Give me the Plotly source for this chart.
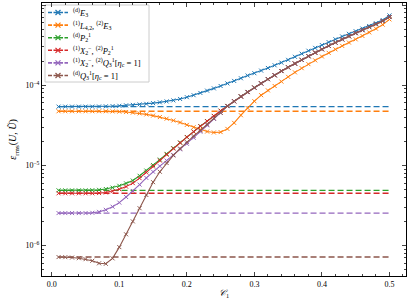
import plotly.graph_objects as go

# x grid (C_1)
c1 = [round(0.01 * i, 2) for i in range(1, 51)]

# solid curves
blue_e3 = [5.40e-5, 5.40e-5, 5.40e-5, 5.40e-5, 5.40e-5, 5.40e-5, 5.42e-5, 5.45e-5, 5.48e-5, 5.53e-5,
           5.60e-5, 5.68e-5, 5.75e-5, 5.85e-5, 5.97e-5, 6.11e-5, 6.27e-5, 6.46e-5, 6.73e-5, 7.08e-5,
           7.50e-5, 8.00e-5, 8.55e-5, 9.12e-5, 9.77e-5, 1.052e-4, 1.13e-4, 1.22e-4, 1.32e-4, 1.41e-4,
           1.52e-4, 1.64e-4, 1.77e-4, 1.91e-4, 2.07e-4, 2.26e-4, 2.47e-4, 2.69e-4, 2.92e-4, 3.16e-4,
           3.44e-4, 3.74e-4, 4.05e-4, 4.37e-4, 4.71e-4, 5.08e-4, 5.47e-4, 5.92e-4, 6.49e-4, 7.41e-4]
orange_l42 = [4.73e-5, 4.73e-5, 4.73e-5, 4.73e-5, 4.73e-5, 4.73e-5, 4.73e-5, 4.73e-5, 4.71e-5, 4.68e-5,
              4.62e-5, 4.55e-5, 4.45e-5, 4.32e-5, 4.17e-5, 4.00e-5, 3.82e-5, 3.63e-5, 3.43e-5, 3.20e-5,
              2.99e-5, 2.79e-5, 2.64e-5, 2.57e-5, 2.60e-5, 2.85e-5, 3.39e-5, 4.22e-5, 5.19e-5, 6.31e-5,
              7.50e-5, 8.61e-5, 9.77e-5, 1.109e-4, 1.27e-4, 1.445e-4, 1.63e-4, 1.83e-4, 2.04e-4, 2.28e-4,
              2.53e-4, 2.80e-4, 3.09e-4, 3.40e-4, 3.73e-4, 4.11e-4, 4.55e-4, 5.07e-4, 5.69e-4, 6.61e-4]
green_p21 = [4.88e-6, 4.88e-6, 4.88e-6, 4.88e-6, 4.88e-6, 4.90e-6, 4.95e-6, 5.07e-6, 5.27e-6, 5.56e-6,
             5.96e-6, 6.46e-6, 7.41e-6, 8.61e-6, 1.007e-5, 1.18e-5, 1.39e-5, 1.64e-5, 1.93e-5, 2.26e-5,
             2.64e-5, 3.09e-5, 3.57e-5, 4.14e-5, 4.81e-5, 5.52e-5, 6.33e-5, 7.26e-5, 8.24e-5, 9.35e-5,
             1.056e-4, 1.19e-4, 1.33e-4, 1.50e-4, 1.67e-4, 1.86e-4, 2.07e-4, 2.30e-4, 2.55e-4, 2.81e-4,
             3.10e-4, 3.40e-4, 3.73e-4, 4.08e-4, 4.46e-4, 4.86e-4, 5.30e-4, 5.77e-4, 6.31e-4, 7.08e-4]
red_x2p21 = [4.48e-6, 4.48e-6, 4.48e-6, 4.48e-6, 4.48e-6, 4.48e-6, 4.51e-6, 4.59e-6, 4.76e-6, 5.04e-6,
             5.43e-6, 6.00e-6, 6.92e-6, 8.13e-6, 9.66e-6, 1.148e-5, 1.36e-5, 1.62e-5, 1.91e-5, 2.25e-5,
             2.63e-5, 3.07e-5, 3.55e-5, 4.12e-5, 4.79e-5, 5.50e-5, 6.31e-5, 7.24e-5, 8.22e-5, 9.33e-5,
             1.054e-4, 1.19e-4, 1.33e-4, 1.50e-4, 1.67e-4, 1.86e-4, 2.07e-4, 2.30e-4, 2.55e-4, 2.81e-4,
             3.10e-4, 3.40e-4, 3.73e-4, 4.08e-4, 4.46e-4, 4.86e-4, 5.30e-4, 5.77e-4, 6.31e-4, 7.08e-4]
purple_x2q31 = [2.54e-6, 2.54e-6, 2.54e-6, 2.54e-6, 2.54e-6, 2.56e-6, 2.63e-6, 2.79e-6, 3.05e-6, 3.43e-6,
                4.03e-6, 4.79e-6, 5.75e-6, 6.97e-6, 8.32e-6, 9.77e-6, 1.148e-5, 1.35e-5, 1.585e-5, 1.86e-5,
                2.21e-5, 2.63e-5, 3.16e-5, 3.80e-5, 4.52e-5, 5.48e-5, 6.29e-5, 7.22e-5, 8.20e-5, 9.31e-5,
                1.052e-4, 1.19e-4, 1.33e-4, 1.50e-4, 1.67e-4, 1.86e-4, 2.07e-4, 2.30e-4, 2.55e-4, 2.81e-4,
                3.10e-4, 3.40e-4, 3.73e-4, 4.08e-4, 4.46e-4, 4.86e-4, 5.30e-4, 5.77e-4, 6.31e-4, 7.08e-4]
brown_q31 = [7.18e-7, 7.16e-7, 7.08e-7, 6.95e-7, 6.76e-7, 6.46e-7, 6.00e-7, 5.92e-7, 6.92e-7, 9.55e-7,
             1.38e-6, 2.00e-6, 2.92e-6, 4.27e-6, 6.17e-6, 8.32e-6, 1.07e-5, 1.33e-5, 1.62e-5, 1.95e-5,
             2.32e-5, 2.72e-5, 3.24e-5, 3.85e-5, 4.52e-5, 5.48e-5, 6.29e-5, 7.22e-5, 8.20e-5, 9.31e-5,
             1.052e-4, 1.19e-4, 1.33e-4, 1.50e-4, 1.67e-4, 1.86e-4, 2.07e-4, 2.30e-4, 2.55e-4, 2.81e-4,
             3.10e-4, 3.40e-4, 3.73e-4, 4.08e-4, 4.46e-4, 4.86e-4, 5.30e-4, 5.77e-4, 6.31e-4, 7.08e-4]

# dashed reference levels
levels = [5.40e-5, 4.73e-5, 4.88e-6, 4.48e-6, 2.54e-6, 7.18e-7]

labels = [
    "<sup>(d)</sup><i>E</i><sub>3</sub>",
    "<sup>(1)</sup><i>L</i><sub>4,2</sub>, <sup>(2)</sup><i>E</i><sub>3</sub>",
    "<sup>(d)</sup><i>P</i><sub>2</sub><sup>1</sup>",
    "<sup>(1)</sup><i>X</i><sub>2</sub><sup>−</sup>, <sup>(2)</sup><i>P</i><sub>2</sub><sup>1</sup>",
    "<sup>(1)</sup><i>X</i><sub>2</sub><sup>−</sup>, <sup>(2)</sup><i>Q</i><sub>3</sub><sup>1</sup>[<i>η</i><sub>c</sub> = 1]",
    "<sup>(d)</sup><i>Q</i><sub>3</sub><sup>1</sup>[<i>η</i><sub>c</sub> = 1]",
]
colors = ["#1f77b4", "#ff7f0e", "#2ca02c", "#d62728", "#9467bd", "#8c564b"]
series = [blue_e3, orange_l42, green_p21, red_x2p21, purple_x2q31, brown_q31]

fig = go.Figure()
for col, lev in zip(colors, levels):
    fig.add_trace(go.Scatter(
        x=c1, y=[lev] * len(c1), mode="lines", showlegend=False,
        line=dict(color=col, width=1.4, dash="6px,3px"), hoverinfo="skip"))
for col, ys in zip(colors, series):
    fig.add_trace(go.Scatter(
        x=c1, y=ys, mode="lines+markers", showlegend=False,
        line=dict(color=col, width=1.1),
        marker=dict(symbol="x-thin", size=4, line=dict(width=1, color=col))))

# ---- hand-drawn legend (plot-area fraction coordinates) ----
W, H, L, T = 364.0, 273.0, 42.0, 3.0
def px(xp):
    return (xp - L) / W
def py(yp):
    return 1 - (yp - T) / H

shapes = [dict(type="rect", xref="paper", yref="paper", x0=px(45), x1=px(149), y0=py(82), y1=py(5),
               line=dict(color="#cccccc", width=1), fillcolor="white", layer="below")]
annotations = []
leg_y = [12.5 + 12.6 * i for i in range(6)]
for lab, col, yy in zip(labels, colors, leg_y):
    shapes.append(dict(type="line", xref="paper", yref="paper", x0=px(48), x1=px(68),
                       y0=py(yy), y1=py(yy), line=dict(color=col, width=1.6, dash="4px,1.5px"),
                       layer="below"))
    annotations.append(dict(xref="paper", yref="paper", x=px(71), y=py(yy), text=lab,
                            showarrow=False, xanchor="left", yanchor="middle",
                            font=dict(size=8.5)))
fig.add_trace(go.Scatter(
    x=[px(58)] * 6, y=[py(v) for v in leg_y], xaxis="x2", yaxis="y2", mode="markers",
    showlegend=False, hoverinfo="skip",
    marker=dict(symbol="x-thin", size=5, color=colors, line=dict(width=1.2, color=colors))))

font = "Liberation Serif, DejaVu Serif, serif"
ymajor = [1e-6, 1e-5, 1e-4, 1e-3]
yminor = [m * 10.0 ** k for k in range(-7, -3) for m in range(2, 10)]

fig.update_layout(
    width=407, height=300,
    margin=dict(l=42, r=1, t=3, b=24, autoexpand=False),
    paper_bgcolor="white", plot_bgcolor="white",
    font=dict(family=font, size=8, color="black"),
    showlegend=False,
    shapes=shapes, annotations=annotations,
    xaxis=dict(range=[-0.0145, 0.5245], tickvals=[0, 0.1, 0.2, 0.3, 0.4, 0.5],
               ticktext=["0.0", "0.1", "0.2", "0.3", "0.4", "0.5"], automargin=False,
               ticks="inside", ticklen=4, tickwidth=0.8, mirror="allticks",
               showline=True, linecolor="black", linewidth=1, showgrid=False, zeroline=False,
               minor=dict(tickvals=[0.02 * i for i in range(0, 27) if i % 5 != 0],
                          ticks="inside", ticklen=2, tickwidth=0.6),
               title=dict(text="<i>𝒞</i><sub>1</sub>", standoff=2, font=dict(size=9))),
    yaxis=dict(type="log", range=[-6.38, -2.975], tickvals=ymajor, automargin=False,
               ticktext=["10<sup>−6</sup>", "10<sup>−5</sup>", "10<sup>−4</sup>", "10<sup>−3</sup>"],
               ticks="inside", ticklen=4, tickwidth=0.8, mirror="allticks",
               showline=True, linecolor="black", linewidth=1, showgrid=False, zeroline=False,
               minor=dict(tickvals=yminor, ticks="inside", ticklen=2, tickwidth=0.6),
               title=dict(text="<i>ε</i><sub>rms</sub>(<i>U</i>, <i>Ũ</i>)", standoff=6,
                          font=dict(size=10))),
    xaxis2=dict(overlaying="x", range=[0, 1], visible=False, fixedrange=True),
    yaxis2=dict(overlaying="y", range=[0, 1], visible=False, fixedrange=True),
)

fig.write_html("out.html", config={"displayModeBar": False},
               post_script="document.body.style.margin='0';document.body.style.padding='0';")
